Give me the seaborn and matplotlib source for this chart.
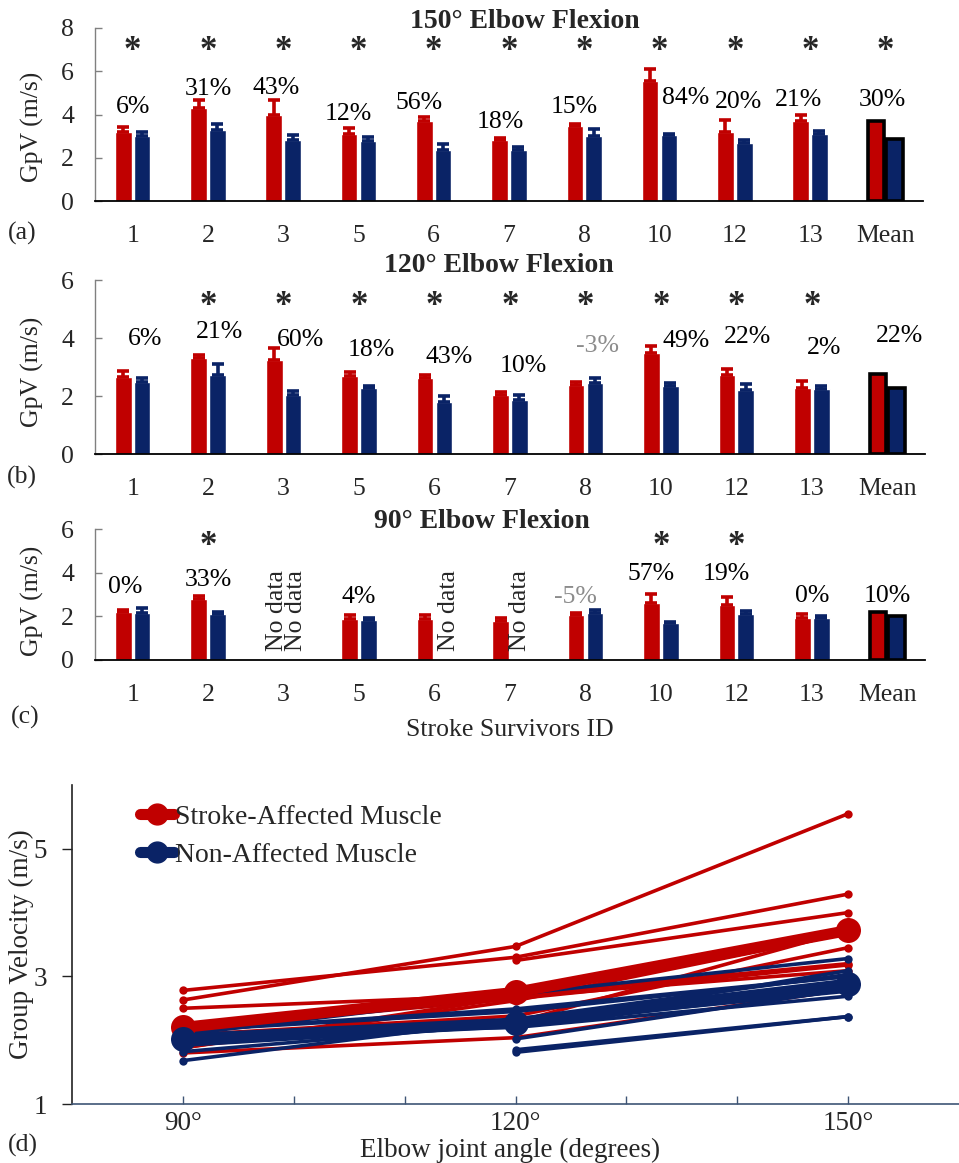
import numpy as np
import pandas as pd
import matplotlib
matplotlib.use("Agg")
import matplotlib.pyplot as plt
from matplotlib.lines import Line2D
import seaborn as sns

# ---------------- data ----------------
ids = ['1', '2', '3', '5', '6', '7', '8', '10', '12', '13', 'Mean']
nan = np.nan

# 150 deg
a_red = [3.18, 4.29, 4.00, 3.09, 3.68, 2.80, 3.45, 5.55, 3.20, 3.72, 3.72]
a_red_err = [0.24, 0.36, 0.69, 0.29, 0.21, 0.12, 0.10, 0.57, 0.54, 0.26, nan]
a_blue = [3.00, 3.28, 2.80, 2.77, 2.37, 2.37, 3.00, 3.03, 2.69, 3.09, 2.88]
a_blue_err = [0.20, 0.30, 0.25, 0.17, 0.28, 0.15, 0.35, 0.09, 0.13, 0.16, nan]
a_pct = ['6%', '31%', '43%', '12%', '56%', '18%', '15%', '84%', '20%', '21%', '30%']
a_star = ['1', '2', '3', '5', '6', '7', '8', '10', '12', '13', 'Mean']

# 120 deg
b_red = [2.65, 3.30, 3.25, 2.68, 2.62, 2.04, 2.38, 3.47, 2.71, 2.28, 2.75]
b_red_err = [0.22, 0.11, 0.41, 0.16, 0.11, 0.09, 0.09, 0.27, 0.21, 0.25, nan]
b_blue = [2.49, 2.72, 2.02, 2.26, 1.81, 1.85, 2.45, 2.33, 2.20, 2.23, 2.27]
b_blue_err = [0.14, 0.39, 0.14, 0.10, 0.19, 0.18, 0.18, 0.12, 0.20, 0.11, nan]
b_pct = ['6%', '21%', '60%', '18%', '43%', '10%', '-3%', '49%', '22%', '2%', '22%']
b_star = ['2', '3', '5', '6', '7', '8', '10', '12', '13']

# 90 deg
c_red = [2.18, 2.78, nan, 1.88, 1.88, 1.80, 2.08, 2.63, 2.50, 1.92, 2.20]
c_red_err = [0.12, 0.15, nan, 0.18, 0.18, 0.11, 0.09, 0.39, 0.37, 0.19, nan]
c_blue = [2.15, 2.09, nan, 1.82, nan, nan, 2.15, 1.68, 2.09, 1.92, 2.02]
c_blue_err = [0.22, 0.12, nan, 0.12, nan, nan, 0.12, 0.08, 0.17, 0.11, nan]
c_pct = ['0%', '33%', '', '4%', '', '', '-5%', '57%', '19%', '0%', '10%']
c_star = ['2', '10', '12']
c_nodata = ['3', '3', '6', '7']

angles = [90, 120, 150]
angle_labels = ['90°', '', '', '120°', '', '', '150°']
muscles = ['Stroke-Affected Muscle', 'Non-Affected Muscle']

# ---------------- label placement (positions only) ----------------
a_pct_dx = [0.0, 0.0, -0.1, -0.13, -0.2, -0.12, -0.13, 0.35, 0.05, -0.15, -0.04]
a_pct_y = [4.35, 5.18, 5.23, 4.0, 4.54, 3.66, 4.35, 4.77, 4.57, 4.69, 4.69]
a_star_y = 6.9
b_pct_dx = [0.16, 0.15, 0.22, 0.16, 0.19, 0.17, 0.16, 0.33, 0.15, 0.16, 0.16]
b_pct_y = [3.98, 4.2, 3.94, 3.6, 3.35, 3.02, 3.71, 3.89, 4.04, 3.66, 4.06]
b_star_y = 5.1
c_pct_dx = [-0.1, 0.0, 0, 0.0, 0, 0, -0.13, -0.13, -0.13, 0.0, 0.0]
c_pct_y = [3.33, 3.66, 0, 2.9, 0, 0, 2.9, 3.94, 3.94, 2.93, 2.93]
c_star_y = 5.19
c_nodata_dx = [-0.09, 0.17, 0.19, 0.13]

RED = '#C00000'
BLUE = '#0A2366'
GREY = '#8C8C8C'

sns.set_theme(style='white')
plt.rcParams['font.family'] = ['Liberation Serif', 'DejaVu Serif']

W, H = 959, 1163
fig = plt.figure(figsize=(W / 100, H / 100), dpi=100)


def px_box(l, t, r, b):
    return [l / W, 1 - b / H, (r - l) / W, (b - t) / H]


ax_a = fig.add_axes(px_box(95, 28, 923, 201))
ax_b = fig.add_axes(px_box(95, 280, 925, 454))
ax_c = fig.add_axes(px_box(95, 529, 925, 660))
ax_d = fig.add_axes(px_box(72, 785, 959, 1104))

FS = 18.5


def bar_panel(ax, red, red_err, blue, blue_err, ymax, yticks, title, title_x, title_y):
    df = pd.DataFrame({
        'id': ids * 2,
        'muscle': [muscles[0]] * len(ids) + [muscles[1]] * len(ids),
        'v': list(red) + list(blue),
    }).dropna()
    sns.barplot(data=df, x='id', y='v', hue='muscle', order=ids, hue_order=muscles,
                palette=[RED, BLUE], width=0.5, gap=0.12, errorbar=None,
                saturation=1, legend=False, ax=ax)
    for cont, errs, col in zip(ax.containers, [red_err, blue_err], [RED, BLUE]):
        for patch in cont.patches:
            h = patch.get_height()
            if not np.isfinite(h):
                continue
            cx = patch.get_x() + patch.get_width() / 2
            idx = int(round(cx))
            if idx == len(ids) - 1:
                patch.set_edgecolor('black')
                patch.set_linewidth(2.6)
                continue
            e = errs[idx]
            if np.isfinite(e):
                ax.errorbar([cx], [h], yerr=[[0], [e]], fmt='none', ecolor=col,
                            elinewidth=2.6, capsize=4.5, capthick=2.6)
    ax.set_xlim(-0.5, len(ids) - 0.5)
    ax.set_ylim(0, ymax)
    ax.set_yticks(yticks)
    ax.set_xlabel('')
    ax.set_ylabel('GpV (m/s)', fontsize=FS)
    ax.tick_params(axis='x', length=0, pad=17, labelsize=FS)
    ax.tick_params(axis='y', direction='in', length=5, width=1, color='#808080',
                   pad=15, labelsize=FS, left=True)
    for s in ['top', 'right']:
        ax.spines[s].set_visible(False)
    ax.spines['left'].set_color('#808080')
    ax.spines['left'].set_linewidth(1.0)
    ax.spines['bottom'].set_color('black')
    ax.spines['bottom'].set_linewidth(1.3)
    fig.text(title_x / W, 1 - title_y / H, title, ha='center', va='center',
             fontsize=20, fontweight='bold')


bar_panel(ax_a, a_red, a_red_err, a_blue, a_blue_err, 8, [0, 2, 4, 6, 8],
          '150° Elbow Flexion', 525, 21)
bar_panel(ax_b, b_red, b_red_err, b_blue, b_blue_err, 6, [0, 2, 4, 6],
          '120° Elbow Flexion', 499, 265)
bar_panel(ax_c, c_red, c_red_err, c_blue, c_blue_err, 6, [0, 2, 4, 6],
          '90° Elbow Flexion', 482, 522)

ax_a.yaxis.set_label_coords(-0.061, 0.43)
ax_b.yaxis.set_label_coords(-0.061, 0.47)
ax_c.yaxis.set_label_coords(-0.061, 0.45)


def annotate(ax, pct, dx, ys, stars, star_y):
    for i, (p, d, y) in enumerate(zip(pct, dx, ys)):
        if p:
            ax.text(i + d, y, p, ha='center', va='center', fontsize=FS,
                    color=GREY if p.startswith('-') else 'black')
    for s in stars:
        ax.text(ids.index(s), star_y, '*', ha='center', va='center',
                fontsize=25, fontweight='bold')


annotate(ax_a, a_pct, a_pct_dx, a_pct_y, a_star, a_star_y)
annotate(ax_b, b_pct, b_pct_dx, b_pct_y, b_star, b_star_y)
annotate(ax_c, c_pct, c_pct_dx, c_pct_y, c_star, c_star_y)
for s, d in zip(c_nodata, c_nodata_dx):
    ax_c.text(ids.index(s) + d, 0.42, 'No data', rotation=90, ha='center',
              va='bottom', fontsize=FS)

ax_c.set_xlabel('Stroke Survivors ID', fontsize=FS)
ax_c.xaxis.set_label_coords(0.5, -0.45)

# ---------------- panel (d) ----------------
subj = ids[:-1]
rows = []
for m, (r90, r120, r150) in zip(muscles, [(c_red, b_red, a_red), (c_blue, b_blue, a_blue)]):
    for k, s in enumerate(subj):
        for ang, arr in zip(angles, (r90, r120, r150)):
            rows.append({'subject': s, 'angle': ang, 'muscle': m, 'v': arr[k]})
df_ind = pd.DataFrame(rows).dropna()
mrows = []
for m, (r90, r120, r150) in zip(muscles, [(c_red, b_red, a_red), (c_blue, b_blue, a_blue)]):
    for ang, arr in zip(angles, (r90, r120, r150)):
        mrows.append({'angle': ang, 'muscle': m, 'v': arr[-1]})
df_mean = pd.DataFrame(mrows)

sns.lineplot(data=df_ind, x='angle', y='v', hue='muscle', units='subject',
             estimator=None, hue_order=muscles, palette=[RED, BLUE], marker='o',
             markersize=6, markeredgewidth=0, linewidth=2.6, legend=False,
             sort=True, ax=ax_d)
sns.lineplot(data=df_mean, x='angle', y='v', hue='muscle', hue_order=muscles,
             palette=[RED, BLUE], marker='o', markersize=18, markeredgewidth=0,
             linewidth=8, errorbar=None, legend=False, ax=ax_d)

ax_d.set_xlim(80, 160)
ax_d.set_ylim(1, 6)
ax_d.set_xticks(list(range(90, 151, 10)))
ax_d.set_xticklabels(angle_labels)
ax_d.set_yticks([1, 3, 5])
ax_d.tick_params(axis='x', direction='in', length=6, width=1, color='#3E5575',
                 pad=5, labelsize=19.5, bottom=True)
ax_d.tick_params(axis='y', direction='out', length=7, width=1, color='#222222',
                 pad=11, labelsize=19.5, left=True)
for s in ['top', 'right']:
    ax_d.spines[s].set_visible(False)
ax_d.spines['left'].set_color('#222222')
ax_d.spines['bottom'].set_color('#3E5575')
ax_d.spines['left'].set_linewidth(1.2)
ax_d.spines['bottom'].set_linewidth(1.2)
ax_d.set_xlabel('Elbow joint angle (degrees)', fontsize=19.5)
ax_d.set_ylabel('Group Velocity (m/s)', fontsize=19.5)
ax_d.xaxis.set_label_coords(0.494, -0.105)
ax_d.yaxis.set_label_coords(-0.043, 0.5)

handles = [Line2D([0], [0], color=RED, lw=8, marker='o', ms=15),
           Line2D([0], [0], color=BLUE, lw=8, marker='o', ms=15)]
ax_d.legend(handles, muscles, loc='upper left', bbox_to_anchor=(0.055, 1.0),
            frameon=False, fontsize=20, handlelength=1.2, handletextpad=0.05,
            labelspacing=0.45, borderpad=0.2)

for lab, x, y in [('(a)', 22, 233), ('(b)', 22, 477), ('(c)', 25, 717), ('(d)', 23, 1145)]:
    fig.text(x / W, 1 - y / H, lab, ha='center', va='center', fontsize=FS)

fig.savefig('out.png', dpi=100)
